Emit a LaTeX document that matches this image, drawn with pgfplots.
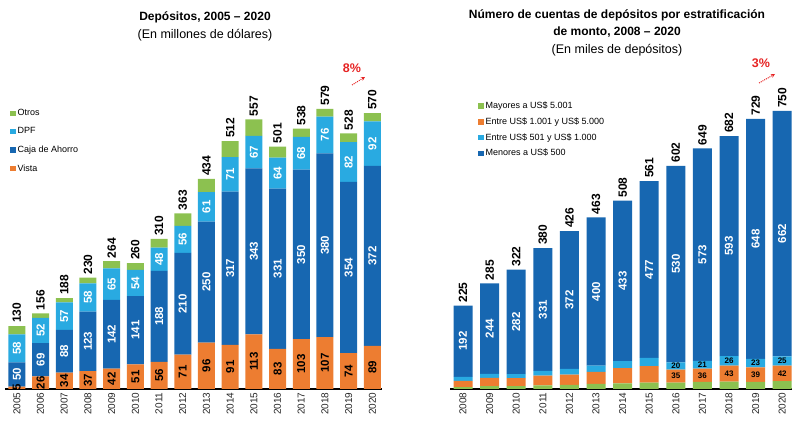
\documentclass[border=0pt]{standalone}
\usepackage{pgfplots}
\pgfplotsset{compat=1.18}
\usepackage{pgfplotstable}
\usepackage{fontspec}
\setmainfont{Liberation Sans}
\usetikzlibrary{arrows.meta}
\definecolor{cOr}{RGB}{237,125,49}
\definecolor{cBl}{RGB}{23,103,177}
\definecolor{cLb}{RGB}{41,170,225}
\definecolor{cGr}{RGB}{140,193,80}
\definecolor{cRed}{RGB}{230,35,35}

\pgfplotstableread{
year vista caja dpf otros total
2005 5 50 58 17 130
2006 26 69 52 9 156
2007 34 88 57 9 188
2008 37 123 58 12 230
2009 42 142 65 15 264
2010 51 141 54 14 260
2011 56 188 48 18 310
2012 71 210 56 26 363
2013 96 250 61 27 434
2014 91 317 71 33 512
2015 113 343 67 34 557
2016 83 331 64 23 501
2017 103 350 68 17 538
2018 107 380 76 16 579
2019 74 354 82 18 528
2020 89 372 92 17 570
}\depL

\pgfplotstableread{
year may e1001 e501 men total
2008 5 17 11 192 225
2009 8 22 11 244 285
2010 8 21 11 282 322
2011 10 26 13 331 380
2012 11 28 15 372 426
2013 14 32 17 400 463
2014 15 41 19 433 508
2015 17 45 22 477 561
2016 17 35 20 530 602
2017 19 36 21 573 649
2018 20 43 26 593 682
2019 19 39 23 648 729
2020 21 42 25 662 750
}\depR

\tikzset{
  seglbl/.style={rotate=90, anchor=center, inner sep=0pt, font=\bfseries\fontsize{11.5}{11.5}\selectfont},
  totlbl/.style={rotate=90, anchor=west, inner sep=3pt, text=black, font=\bfseries\fontsize{12}{12}\selectfont},
  smlbl/.style={anchor=center, inner sep=0pt, text=black, font=\bfseries\fontsize{8}{8}\selectfont},
}

\newcommand\labelsL{%
\pgfplotsforeachungrouped \i in {0,...,15}{%
  \pgfplotstablegetelem{\i}{year}\of{\depL}\let\yr\pgfplotsretval
  \pgfplotstablegetelem{\i}{vista}\of{\depL}\let\va\pgfplotsretval
  \pgfplotstablegetelem{\i}{caja}\of{\depL}\let\vb\pgfplotsretval
  \pgfplotstablegetelem{\i}{dpf}\of{\depL}\let\vc\pgfplotsretval
  \pgfplotstablegetelem{\i}{total}\of{\depL}\let\vt\pgfplotsretval
  \pgfmathsetmacro\ya{\va/2}%
  \pgfmathsetmacro\yb{\va+\vb/2}%
  \pgfmathsetmacro\yc{\va+\vb+\vc/2}%
  \node[seglbl, text=black] at (axis cs:\yr,\ya) {\va};
  \node[seglbl, text=white] at (axis cs:\yr,\yb) {\vb};
  \node[seglbl, text=white] at (axis cs:\yr,\yc) {\vc};
  \node[totlbl] at (axis cs:\yr,\vt) {\vt};
}}

\newcommand\labelsR{%
\pgfplotsforeachungrouped \i in {0,...,12}{%
  \pgfplotstablegetelem{\i}{year}\of{\depR}\let\yr\pgfplotsretval
  \pgfplotstablegetelem{\i}{may}\of{\depR}\let\va\pgfplotsretval
  \pgfplotstablegetelem{\i}{e1001}\of{\depR}\let\vb\pgfplotsretval
  \pgfplotstablegetelem{\i}{e501}\of{\depR}\let\vc\pgfplotsretval
  \pgfplotstablegetelem{\i}{men}\of{\depR}\let\vd\pgfplotsretval
  \pgfplotstablegetelem{\i}{total}\of{\depR}\let\vt\pgfplotsretval
  \pgfmathsetmacro\yb{\va+\vb/2}%
  \pgfmathsetmacro\yc{\va+\vb+\vc/2}%
  \pgfmathsetmacro\yd{\va+\vb+\vc+\vd/2}%
  \node[seglbl, text=white] at (axis cs:\yr,\yd) {\vd};
  \node[totlbl] at (axis cs:\yr,\vt) {\vt};
  \ifnum\yr>2015
    \node[smlbl] at (axis cs:\yr,\yb) {\vb};
    \node[smlbl] at (axis cs:\yr,\yc) {\vc};
  \fi
}}

\pgfplotsset{
  sqleg/.style={legend image code/.code={\fill[##1] (0pt,-2.7pt) rectangle (5.4pt,2.7pt);}},
  common/.style={
    ybar stacked, enlargelimits=false, clip=false,
    axis x line*=bottom, axis y line=none,
    x axis line style={line width=1.6pt, black},
    major tick length=0pt,
    xticklabel style={rotate=90, anchor=east, font=\fontsize{10}{10}\selectfont, text=black!85},
    /pgf/number format/1000 sep={}, /pgf/number format/assume math mode=true,
    legend cell align=left,
  },
}

\begin{document}
\begin{tikzpicture}
\useasboundingbox (0,0) rectangle (792pt,422pt);

% ---------------- Left chart ----------------
\begin{axis}[common,
  at={(5pt,33pt)}, anchor=south west,
  x=23.7pt, y=0.484pt,
  xmin=2004.5, xmax=2020.42, ymin=0, ymax=600,
  bar width=17pt,
  xtick={2005,...,2020},
  reverse legend,
  legend style={at={(0.013,0.97)}, anchor=north west, draw=none, fill=none,
    inner sep=0pt, font=\fontsize{9}{9}\selectfont, row sep=6.5pt},
  after end axis/.code={\labelsL},
]
\addplot[fill=cOr, draw=none, sqleg] table[x=year,y=vista]{\depL};
\addlegendentry{Vista}
\addplot[fill=cBl, draw=none, sqleg] table[x=year,y=caja]{\depL};
\addlegendentry{Caja de Ahorro}
\addplot[fill=cLb, draw=none, sqleg] table[x=year,y=dpf]{\depL};
\addlegendentry{DPF}
\addplot[fill=cGr, draw=none, sqleg] table[x=year,y=otros]{\depL};
\addlegendentry{Otros}
\end{axis}

% ---------------- Right chart ----------------
\begin{axis}[common,
  at={(450pt,33pt)}, anchor=south west,
  x=26.6pt, y=0.3707pt,
  xmin=2007.51, xmax=2020.38, ymin=0, ymax=800,
  bar width=19pt,
  xtick={2008,...,2020},
  legend style={at={(0.082,0.975)}, anchor=north west, draw=none, fill=none,
    inner sep=0pt, font=\fontsize{9}{9}\selectfont, row sep=3.6pt},
  after end axis/.code={\labelsR},
]
\addplot[fill=cGr, draw=none, sqleg] table[x=year,y=may]{\depR};
\addlegendentry{Mayores a US\$ 5.001}
\addplot[fill=cOr, draw=none, sqleg] table[x=year,y=e1001]{\depR};
\addlegendentry{Entre US\$ 1.001 y US\$ 5.000}
\addplot[fill=cLb, draw=none, sqleg] table[x=year,y=e501]{\depR};
\addlegendentry{Entre US\$ 501 y US\$ 1.000}
\addplot[fill=cBl, draw=none, sqleg] table[x=year,y=men]{\depR};
\addlegendentry{Menores a US\$ 500}
\end{axis}

% ---------------- Titles and annotations ----------------
\node[font=\bfseries\fontsize{12}{12}\selectfont] at (205pt,405pt) {Depósitos, 2005 – 2020};
\node[font=\fontsize{12.5}{12.5}\selectfont] at (205pt,387pt) {(En millones de dólares)};
\node[font=\bfseries\fontsize{12}{12}\selectfont] at (617pt,407pt) {Número de cuentas de depósitos por estratificación};
\node[font=\bfseries\fontsize{12}{12}\selectfont] at (617pt,390pt) {de monto, 2008 – 2020};
\node[font=\fontsize{12.5}{12.5}\selectfont] at (617pt,372pt) {(En miles de depósitos)};

\node[text=cRed, font=\bfseries\fontsize{12.5}{12.5}\selectfont] at (352pt,354pt) {8\%};
\draw[cRed, densely dotted, line width=1pt, -{Stealth[length=4pt,width=4pt]}] (352pt,337pt) -- (365pt,345pt);
\node[text=cRed, font=\bfseries\fontsize{12.5}{12.5}\selectfont] at (761pt,359pt) {3\%};
\draw[cRed, densely dotted, line width=1pt, -{Stealth[length=4pt,width=4pt]}] (759pt,339pt) -- (775pt,348pt);
\end{tikzpicture}
\end{document}
